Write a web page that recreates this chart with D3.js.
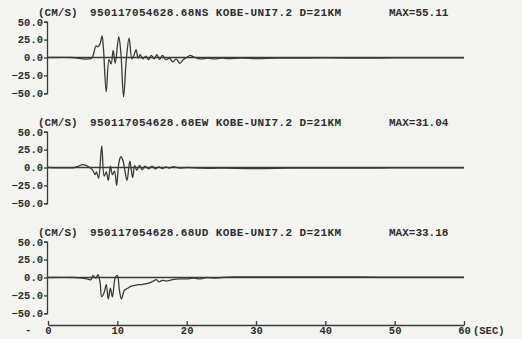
<!DOCTYPE html>
<html>
<head>
<meta charset="utf-8">
<script src="https://cdn.jsdelivr.net/npm/d3@7"></script>
<style>
  html, body { margin: 0; padding: 0; background: #f4f4f1; }
  svg { display: block; }
  text { font-family: "Liberation Mono", "DejaVu Sans Mono", monospace; font-weight: bold; fill: #2e2e2e; }
</style>
</head>
<body>
<div id="chart"></div>
<script>
const width = 522;
const height = 339;

// component names, peak values and titles
const components = ["NS", "EW", "UD"];
const maxValues = ["55.11", "31.04", "33.18"];
const stationText = "KOBE-UNI7.2 D=21KM";
const eventId = "950117054628.68";
const yTicks = [50, 25, 0, -25, -50];
const xTicks = [0, 10, 20, 30, 40, 50, 60];

// velocity traces, [seconds, cm/s]
const nsTrace = [
    [0, 0], [3.5, 0], [4.2, -1], [5, -2], [5.8, -2], [6.3, -1], [6.6, 6], [6.9, 16],
    [7.2, 15], [7.5, 19], [7.8, 30], [8.0, 12], [8.4, -48], [8.8, -3], [9.1, -9],
    [9.4, 10], [9.7, -8], [10.2, 29], [10.5, 8], [10.9, -55], [11.3, -2], [11.7, 27],
    [12.1, -2], [12.4, 3], [12.7, 11], [13.0, -1], [13.3, 4], [13.7, -2], [14.1, 2],
    [14.5, -3], [14.9, 3], [15.3, -2], [15.7, 4], [16.1, -3], [16.5, 3], [17.0, -3],
    [17.5, -1], [18.0, -6], [18.5, -2], [19.0, -8], [19.5, -3], [20.0, 0], [20.5, 3],
    [21.0, 1], [22, -2], [23, -1], [24, -2], [25, -1], [26, -1.5], [28, -1], [30, -1.5],
    [33, -1], [36, -1], [40, -0.5], [45, -1], [50, -0.5], [55, -0.5], [60, -0.5]
];
const ewTrace = [
    [0, 0], [3.8, 0], [4.4, 2], [5.0, 4], [5.5, 3], [6.0, 0], [6.4, -3], [6.8, -10],
    [7.0, -6], [7.3, -15], [7.75, 30], [8.1, -12], [8.4, -6], [8.7, -18], [9.0, 2],
    [9.3, -10], [9.6, -5], [9.9, -25], [10.2, 5], [10.5, 15], [10.8, 10], [11.1, -5],
    [11.4, -18], [11.8, 9], [12.2, -14], [12.5, 3], [12.8, -4], [13.2, 3], [13.6, -3],
    [14.0, 2], [14.5, -2], [15, 2], [15.5, -2], [16, 1], [16.5, -1.5], [17, 1],
    [17.5, -1], [18, 1], [19, -1], [20, 0], [22, -1], [25, -1], [30, -1.5], [35, -1],
    [40, -1], [45, -1], [50, -0.5], [55, -0.5], [60, -0.5]
];
const udTrace = [
    [0, 0], [4, 0], [4.8, -1], [5.6, -2], [6.2, -3], [6.5, 3], [6.9, -1], [7.2, 4],
    [7.5, -6], [7.75, -27], [8.1, -21], [8.4, -10], [8.7, -30], [9.0, -15], [9.3, -27],
    [9.7, 0], [10.0, 3], [10.3, -18], [10.6, -30], [11.0, -18], [11.5, -15], [12, -12],
    [12.5, -11], [13, -10], [13.5, -10], [14, -9], [14.5, -8], [15.2, -5], [15.6, -3],
    [16, -6], [16.5, -4], [17, -5], [18, -3], [19, -2], [20, -2], [21, -1], [22, -2],
    [23, 0], [24, -1], [25, 0], [27, 0.8], [30, 0.8], [35, 1], [40, 0.8], [45, 0.8],
    [50, 0.5], [55, 0.5], [60, 0.5]
];
const traces = [nsTrace, ewTrace, udTrace];

const panelTop = 21.7;      // y of 50.0 in the first panel
const panelStep = 110;      // vertical distance between panels
const panelHeight = 71.6;   // 50.0 to -50.0
const ink = "#3a3a3a";

const svg = d3.select("#chart")
    .append("svg")
    .attr("width", width)
    .attr("height", height);

svg.append("rect")
    .attr("width", width)
    .attr("height", height)
    .attr("fill", "#f4f4f1");

const x = d3.scaleLinear()
    .domain([0, 60])
    .range([48, 464]);

components.forEach((comp, i) => {
    const top = panelTop + i * panelStep;
    const y = d3.scaleLinear()
        .domain([-50, 50])
        .range([top + panelHeight, top]);

    // title line
    const titleY = top - 6;
    svg.append("text").attr("x", 38).attr("y", titleY)
        .attr("font-size", "11px").text("(CM/S)");
    svg.append("text").attr("x", 90).attr("y", titleY)
        .attr("font-size", "11px").attr("textLength", 251)
        .text(`${eventId}${comp} ${stationText}`);
    svg.append("text").attr("x", 389).attr("y", titleY)
        .attr("font-size", "11px").text(`MAX=${maxValues[i]}`);

    // y axis
    const yAxis = svg.append("g")
        .attr("transform", "translate(47,0)")
        .call(d3.axisLeft(y).tickValues(yTicks)
            .tickFormat(d3.format(".1f")).tickSize(3).tickPadding(1));
    yAxis.select(".domain").attr("stroke", ink).attr("stroke-width", 1.3);
    yAxis.selectAll(".tick line").attr("stroke", ink).attr("stroke-width", 1.3);
    yAxis.selectAll(".tick text")
        .attr("font-size", "10.5px")
        .attr("font-family", "Liberation Mono, monospace")
        .attr("fill", "#2e2e2e");

    // zero line
    svg.append("line")
        .attr("x1", x(0)).attr("x2", x(60))
        .attr("y1", y(0)).attr("y2", y(0))
        .attr("stroke", ink)
        .attr("stroke-width", 1.3);

    // trace
    svg.append("path")
        .datum(traces[i])
        .attr("fill", "none")
        .attr("stroke", ink)
        .attr("stroke-width", 1.3)
        .attr("stroke-linejoin", "round")
        .attr("d", d3.line()
            .x(d => x(d[0]))
            .y(d => y(d[1]))
            .curve(d3.curveCatmullRom.alpha(0.5)));
});

// time axis
const xAxis = svg.append("g")
    .attr("transform", "translate(0,325)")
    .call(d3.axisBottom(x).tickValues(xTicks).tickSizeInner(-4).tickSizeOuter(0).tickPadding(2));
xAxis.select(".domain").attr("stroke", ink).attr("stroke-width", 1.3);
xAxis.selectAll(".tick line").attr("stroke", ink).attr("stroke-width", 1.3);
xAxis.selectAll(".tick text")
    .attr("font-size", "10.5px")
    .attr("font-family", "Liberation Mono, monospace")
    .attr("fill", "#2e2e2e");

svg.append("text").attr("x", 473).attr("y", 334)
    .attr("font-size", "10.5px").text("(SEC)");
svg.append("text").attr("x", 25).attr("y", 333)
    .attr("font-size", "10.5px").text("-");
</script>
</body>
</html>
